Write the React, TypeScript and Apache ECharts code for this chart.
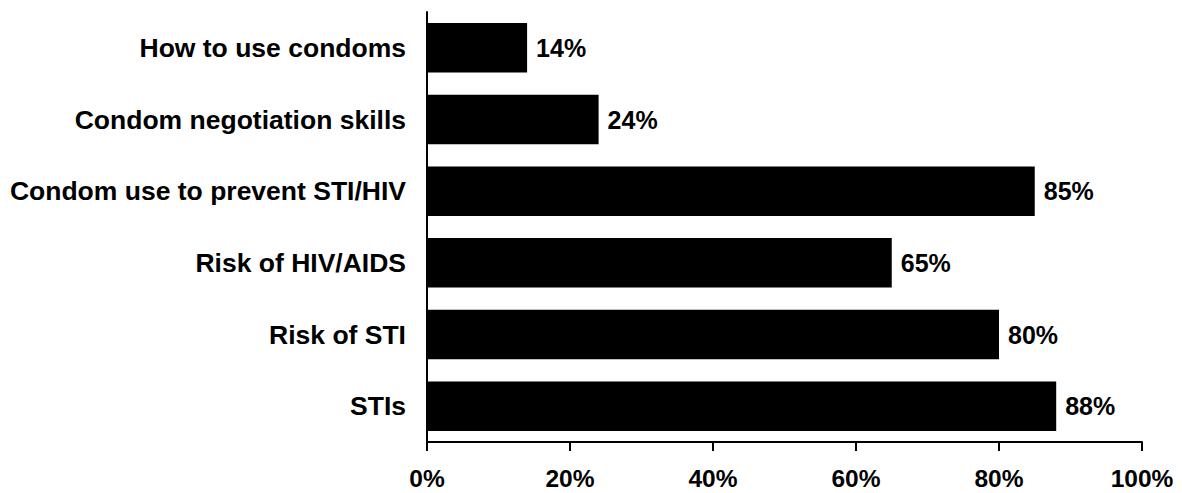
import React, { useEffect, useRef } from "react";
import * as echarts from "echarts";

const categories = [
  "STIs",
  "Risk of STI",
  "Risk of HIV/AIDS",
  "Condom use to prevent STI/HIV",
  "Condom negotiation skills",
  "How to use condoms",
];
const values = [88, 80, 65, 85, 24, 14];
const xTicks = [0, 20, 40, 60, 80, 100];

export default function App() {
  const ref = useRef<HTMLDivElement>(null);
  useEffect(() => {
    document.body.style.margin = "0";
    const chart = echarts.init(ref.current!, null, { renderer: "svg" });
    const font = "Arial, 'Liberation Sans', sans-serif";
    chart.setOption({
      animation: false,
      backgroundColor: "#ffffff",
      grid: { left: 427, right: 40, top: 12, bottom: 51, containLabel: false },
      xAxis: {
        type: "value",
        min: xTicks[0],
        max: xTicks[xTicks.length - 1],
        interval: 20,
        axisLine: { show: true, lineStyle: { color: "#000", width: 2 } },
        axisTick: { show: true, length: 9, lineStyle: { color: "#000", width: 2 } },
        splitLine: { show: false },
        axisLabel: {
          formatter: "{value}%",
          color: "#000",
          fontWeight: "bold",
          fontSize: 24.5,
          fontFamily: font,
          margin: 24,
        },
      },
      yAxis: {
        type: "category",
        data: categories,
        axisLine: { show: true, lineStyle: { color: "#000", width: 2 } },
        axisTick: { show: false },
        axisLabel: {
          color: "#000",
          fontWeight: "bold",
          fontSize: 26.5,
          fontFamily: font,
          margin: 21,
        },
      },
      series: [
        {
          type: "bar",
          data: values,
          barWidth: "69%",
          itemStyle: { color: "#000" },
          label: {
            show: true,
            position: "right",
            distance: 9,
            formatter: "{c}%",
            color: "#000",
            fontWeight: "bold",
            fontSize: 25,
            fontFamily: font,
          },
        },
      ],
    });
    return () => chart.dispose();
  }, []);
  return <div ref={ref} style={{ width: 1182, height: 493 }} />;
}
